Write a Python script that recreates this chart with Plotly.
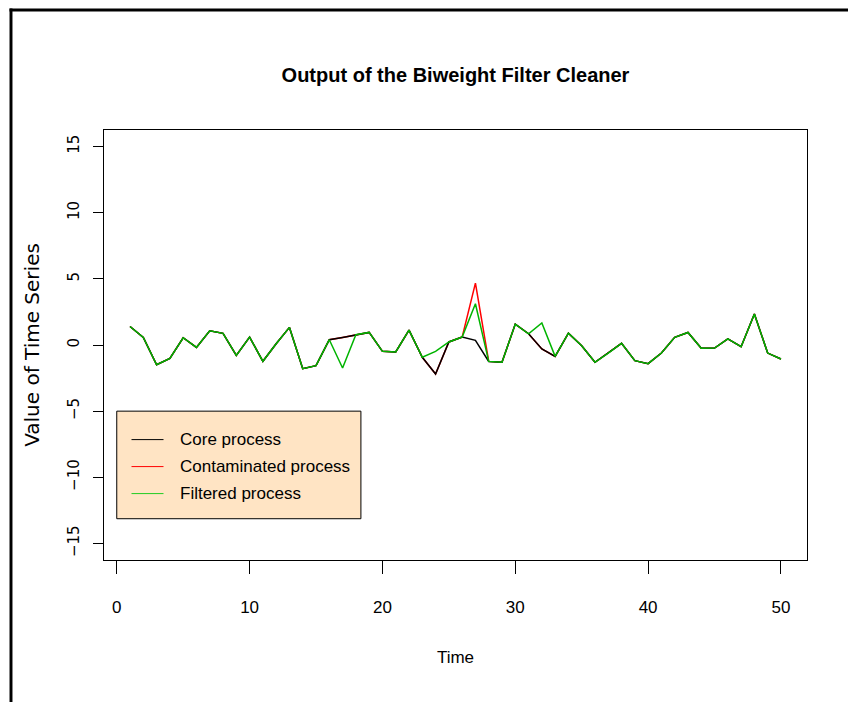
import plotly.graph_objects as go

time = list(range(1, 51))
core = [1.40, 0.57, -1.49, -1.01, 0.55, -0.18, 1.08, 0.88, -0.78, 0.60,
        -1.23, 0.10, 1.33, -1.79, -1.56, 0.40, 0.57, 0.78, 0.95, -0.48,
        -0.53, 1.13, -0.93, -2.19, 0.23, 0.60, 0.35, -1.24, -1.31, 1.58,
        0.85, -0.30, -0.86, 0.90, -0.05, -1.31, -0.61, 0.13, -1.18, -1.41,
        -0.61, 0.58, 0.95, -0.25, -0.23, 0.47, -0.13, 2.34, -0.61, -1.06]
contaminated = list(core)
contaminated[26] = 4.68
filtered = list(core)
filtered[16] = -1.74
filtered[23] = -0.48
filtered[26] = 3.12
filtered[31] = 1.66

legend_labels = ["Core process", "Contaminated process", "Filtered process"]
x_ticks = [0, 10, 20, 30, 40, 50]
y_ticks = [-15, -10, -5, 0, 5, 10, 15]

BLACK = "#000000"
RED = "#FF0000"
GREEN = "#00B400"
FONT = "Liberation Sans, Arial, sans-serif"

fig = go.Figure()
fig.add_trace(go.Scatter(x=time, y=contaminated, mode="lines",
                         line=dict(color=RED, width=1.5), showlegend=False))
fig.add_trace(go.Scatter(x=time, y=core, mode="lines",
                         line=dict(color=BLACK, width=1.5), showlegend=False))
fig.add_trace(go.Scatter(x=time, y=filtered, mode="lines",
                         line=dict(color=GREEN, width=1.5), showlegend=False))

# custom legend box (R style), anchored at (0, -5)
fig.add_shape(type="rect", xref="x", yref="y", x0=0, x1=18.38, y0=-5, y1=-13.13,
              fillcolor="#FFE4C4", line=dict(color="black", width=1), layer="above")
leg_colors = [BLACK, RED, "#22CC22"]
leg_rows = [-7.15, -9.19, -11.23]
for lab, col, yy in zip(legend_labels, leg_colors, leg_rows):
    fig.add_shape(type="line", xref="x", yref="y", x0=1.11, x1=3.52, y0=yy, y1=yy,
                  line=dict(color=col, width=1), layer="above")
    fig.add_annotation(x=4.6, y=yy, xref="x", yref="y", text=lab, showarrow=False,
                       xanchor="left", yanchor="middle",
                       font=dict(family=FONT, size=17, color="black"))

# outer frame (top and left edges), drawn as filled bars
fig.add_shape(type="rect", xref="paper", yref="paper", x0=-0.1323 - 0.0021, x1=1.0626,
              y0=1.2788 - 0.0035, y1=1.2788 + 0.0035,
              fillcolor="black", line=dict(width=0))
fig.add_shape(type="rect", xref="paper", yref="paper", x0=-0.1323 - 0.0021, x1=-0.1323 + 0.0021,
              y0=1.2788 + 0.0035, y1=-0.34,
              fillcolor="black", line=dict(width=0))

fig.update_layout(
    width=848, height=702,
    margin=dict(l=104, r=41, t=130, b=142),
    paper_bgcolor="white", plot_bgcolor="white",
    showlegend=False,
    title=dict(text="<b>Output of the Biweight Filter Cleaner</b>",
               x=0.5, xref="paper", y=1 - 75 / 702, yref="container",
               xanchor="center", yanchor="middle",
               font=dict(family=FONT, size=20, color="black")),
    font=dict(family=FONT, color="black"),
)
fig.update_xaxes(range=[-0.96, 51.96], tickvals=x_ticks, ticks="outside", ticklen=13,
                 tickcolor="black", tickwidth=1, showline=True, mirror=True,
                 linecolor="black", linewidth=1, showgrid=False, zeroline=False,
                 tickfont=dict(family=FONT, size=17), ticklabelstandoff=19,
                 title=dict(text="Time", font=dict(family=FONT, size=17), standoff=34))
fig.update_yaxes(range=[-16.25, 16.25], tickvals=y_ticks, ticks="outside", ticklen=10,
                 tickcolor="black", tickwidth=1, showline=True, mirror=True,
                 linecolor="black", linewidth=1, showgrid=False, zeroline=False,
                 tickangle=-90, tickfont=dict(family="DejaVu Sans", size=15),
                 ticklabelstandoff=8,
                 title=dict(text="Value of Time Series",
                            font=dict(family="DejaVu Sans", size=20), standoff=20))

fig.write_html("out.html", config={"displayModeBar": False})
